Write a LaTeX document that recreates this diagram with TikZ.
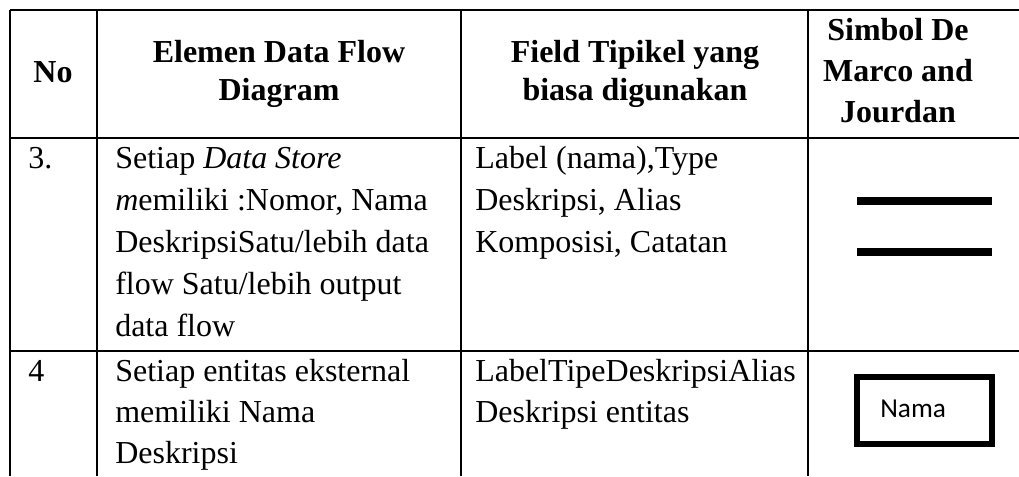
\documentclass[tikz,border=0pt]{standalone}
\usepackage{fontspec}
\setmainfont{Liberation Serif}
\newfontfamily\symfont{Carlito}
\begin{document}
\begin{tikzpicture}[x=0.75pt,y=-0.75pt,
  grid/.style={line width=1.8pt},
  hd/.style={font=\fontsize{24}{30}\selectfont\bfseries, inner sep=0pt, anchor=base},
  bd/.style={font=\fontsize{24}{31.5}\selectfont, inner sep=0pt, anchor=base west},
  storeline/.style={line width=6pt}]
\useasboundingbox (0,0) rectangle (1019,476);
% grid
\coordinate (tl) at (10,10);
\coordinate (tr) at (1019,10);
\coordinate (h1l) at (10,138);
\coordinate (h1r) at (1019,138);
\coordinate (h2l) at (10,351);
\coordinate (h2r) at (1019,351);
\coordinate (v0t) at (10,10);   \coordinate (v0b) at (10,476);
\coordinate (v1t) at (97,10);   \coordinate (v1b) at (97,476);
\coordinate (v2t) at (461,10);  \coordinate (v2b) at (461,476);
\coordinate (v3t) at (808,10);  \coordinate (v3b) at (808,476);
\draw[grid] (tl) -- (tr);
\draw[grid] (h1l) -- (h1r);
\draw[grid] (h2l) -- (h2r);
\draw[grid] (v0t) -- (v0b);
\draw[grid] (v1t) -- (v1b);
\draw[grid] (v2t) -- (v2b);
\draw[grid] (v3t) -- (v3b);
% header
\node[hd] (hno) at (53,82) {No};
\node[hd] (he1) at (279,62) {Elemen Data Flow};
\node[hd] (he2) at (279,100) {Diagram};
\node[hd] (hf1) at (635,62) {Field Tipikel yang};
\node[hd] (hf2) at (635,100) {biasa digunakan};
\node[hd] (hs1) at (898,40) {Simbol De};
\node[hd] (hs2) at (898,81) {Marco and};
\node[hd] (hs3) at (898,122) {Jourdan};
% row 3
\node[bd] (n3) at (28,168) {3.};
\node[bd] (e31) at (115,168) {Setiap \textit{Data Store}};
\node[bd] (e32) at (115,210) {\textit{m}emiliki :Nomor, Nama};
\node[bd] (e33) at (115,252) {DeskripsiSatu/lebih data};
\node[bd] (e34) at (115,294) {flow Satu/lebih output};
\node[bd] (e35) at (115,336) {data flow};
\node[bd] (f31) at (475,168) {Label (nama),Type};
\node[bd] (f32) at (475,210) {Deskripsi, Alias};
\node[bd] (f33) at (475,252) {Komposisi, Catatan};
\coordinate (s1a) at (857,201); \coordinate (s1b) at (992,201);
\coordinate (s2a) at (857,252); \coordinate (s2b) at (992,252);
\draw[storeline] (s1a) -- (s1b);
\draw[storeline] (s2a) -- (s2b);
% row 4
\node[bd] (n4) at (28,381) {4};
\node[bd] (e41) at (115,381) {Setiap entitas eksternal};
\node[bd] (e42) at (115,422) {memiliki Nama};
\node[bd] (e43) at (115,463) {Deskripsi};
\node[bd] (f41) at (475,381) {LabelTipeDeskripsiAlias};
\node[bd] (f42) at (475,422) {Deskripsi entitas};
\coordinate (ba) at (857,377); \coordinate (bb) at (992,444);
\draw[line width=4.5pt] (ba) rectangle (bb);
\node[font=\symfont\fontsize{20.5}{24}\selectfont, inner sep=0pt, anchor=base west] (nama) at (880,417) {Nama};
\end{tikzpicture}
\end{document}
